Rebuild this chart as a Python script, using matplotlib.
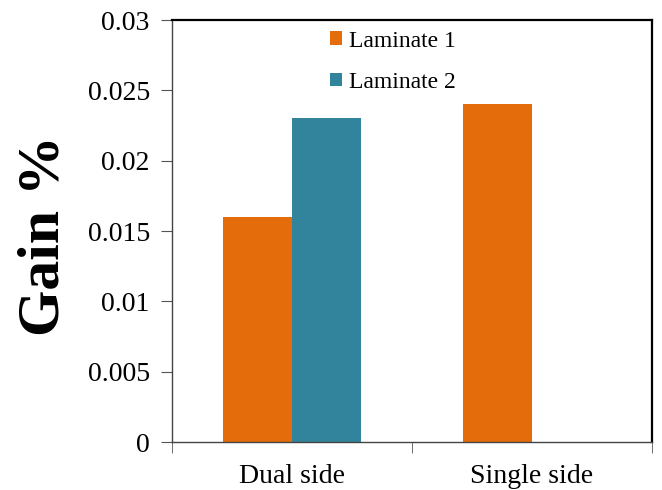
import matplotlib
matplotlib.use("Agg")
import matplotlib.pyplot as plt
import numpy as np

# gain per configuration
categories = ["Dual side", "Single side"]
series_names = ["Laminate 1", "Laminate 2"]
laminate1 = [0.016, 0.024]
laminate2 = [0.023, 0.0]
yticks = [0, 0.005, 0.01, 0.015, 0.02, 0.025, 0.03]
ytick_labels = ["0", "0.005", "0.01", "0.015", "0.02", "0.025", "0.03"]

plt.rcParams['font.family'] = ['Liberation Serif', 'DejaVu Serif']

fig = plt.figure(figsize=(6.62, 4.90), dpi=100)
ax = fig.add_axes([172/662, 1-442/490, 480/662, 422/490])

x = np.arange(len(categories))
w = 0.2875
ax.bar(x - w, laminate1, width=w, align='edge', color='#E46C0A', label=series_names[0])
ax.bar(x, laminate2, width=w, align='edge', color='#31849B', label=series_names[1])

ax.set_xlim(-0.5, 1.5)
ax.set_ylim(0, 0.03)
ax.set_yticks(yticks)
ax.set_yticklabels(ytick_labels, fontsize=20)
ax.set_xticks(x)
ax.set_xticklabels(categories, fontsize=20)
ax.set_xticks([-0.5, 0.5, 1.5], minor=True)
ax.tick_params(axis='x', which='major', length=0, pad=16)
ax.tick_params(axis='x', which='minor', length=8, direction='out', color='#555555')
ax.tick_params(axis='y', length=8, direction='out', color='#555555', pad=8)

for s in ['top', 'right']:
    ax.spines[s].set_linewidth(1.6)
    ax.spines[s].set_color('black')
for s in ['left', 'bottom']:
    ax.spines[s].set_linewidth(1.0)
    ax.spines[s].set_color('#444444')

fig.text(45/662, 1-236/490, "Gain %", rotation=90, ha='center', va='center',
         fontsize=43, fontweight='bold')

ax.legend(loc='upper left', bbox_to_anchor=(0.33, 0.975), frameon=False,
          fontsize=17, handlelength=0.5, handleheight=0.5, handletextpad=0.3,
          labelspacing=0.85, borderpad=0, borderaxespad=0)

fig.savefig("out.png", dpi=100)
